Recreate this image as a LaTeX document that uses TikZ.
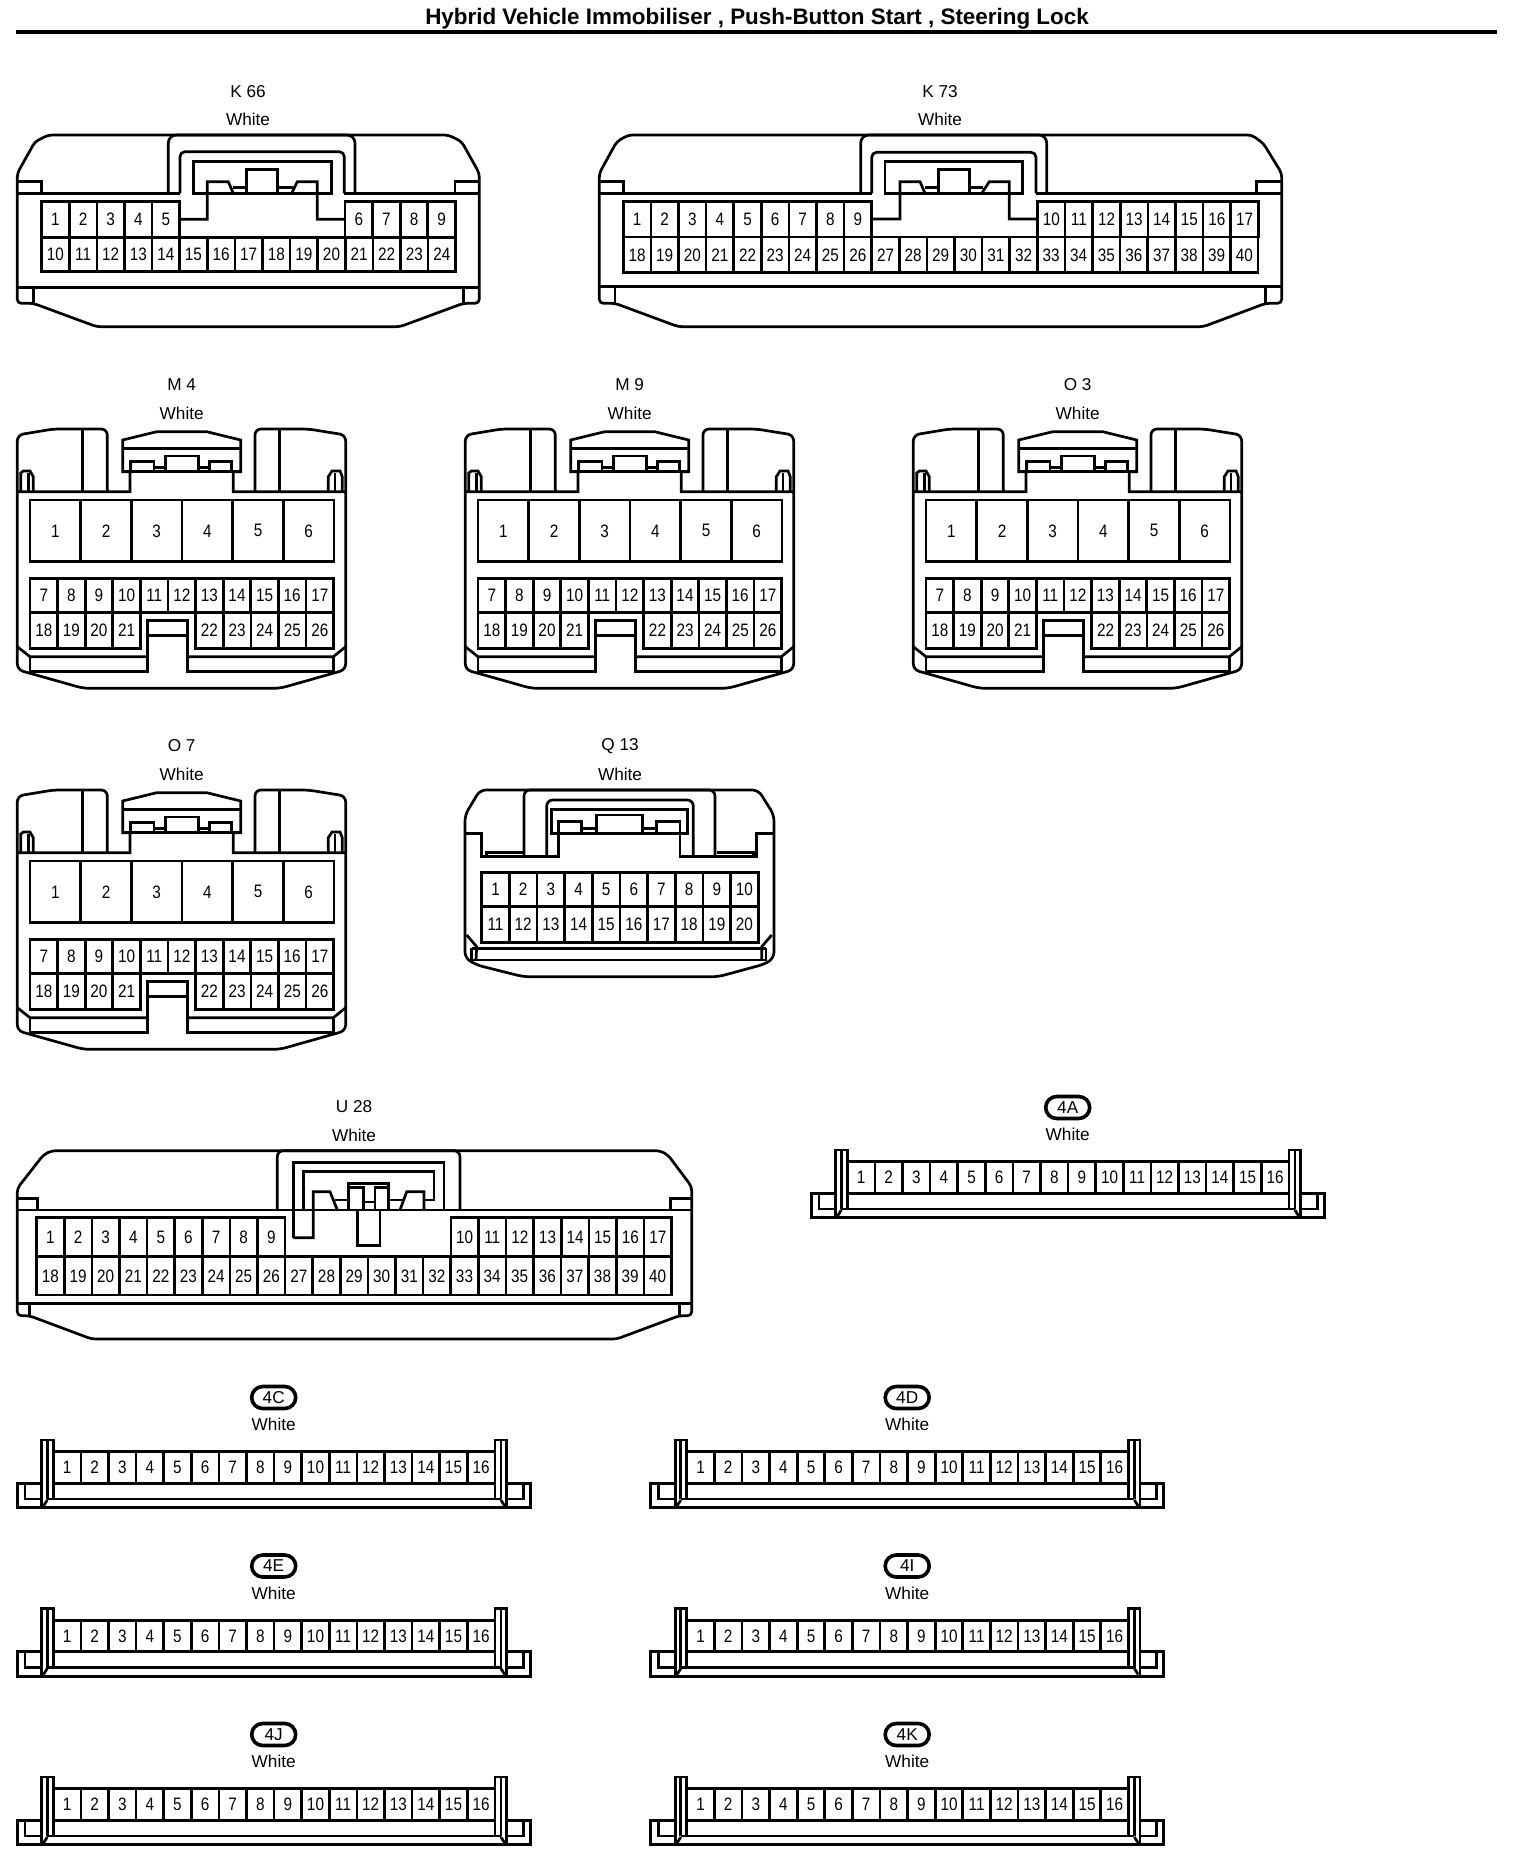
\documentclass[tikz,border=0pt]{standalone}
\usepackage{fontspec}
\setmainfont{Liberation Sans}[FakeStretch=0.85]
\newfontfamily\wideface{Liberation Sans}
\usetikzlibrary{positioning, shapes.misc}

\tikzset{
  conn/.style={line width=1.35pt},
  pin/.style={draw, line width=1.35pt, inner sep=0pt, outer sep=0pt, font=\fontsize{9}{10}\selectfont},
  lab/.style={inner sep=0pt, font=\wideface\fontsize{8.6}{10}\selectfont},
  badge/.style={draw, rounded rectangle, line width=1.8pt, inner sep=0pt, minimum width=22pt, minimum height=11pt, font=\wideface\fontsize{8.6}{10}\selectfont}
}

\newcommand{\pinrow}[7]{%
  \foreach \n in {#6,...,#7}
    \node[pin, minimum width=#4*0.5pt, minimum height=#5*0.5pt] (#1\n) at ({#2+(\n-#6+0.5)*#4},{#3+#5/2}) {\n};
}

\newcommand{\mconn}[4]{%
  \begin{scope}[shift={(#3,#4)}]
    \node[lab] (#1name) at (181.7,385) {#2};
    \node[lab] (#1color) at (181.7,413) {White};
    \draw[conn, rounded corners=3pt] (107.3,491.7) -- (107.3,429) -- (53.3,429) -- (17.3,435) -- (17.3,669.7) -- (83.3,688.3) -- (280,688.3) -- (345.7,669.7) -- (345.7,435) -- (308.3,429) -- (255,429) -- (255,491.7);
    \draw[conn] (17.3,491.7) -- (130,491.7) -- (130,471.7) -- (122.7,471.7) -- (122.7,440) -- (156.7,431.7) -- (206.7,431.7) -- (240.7,440) -- (240.7,471.7) -- (233.3,471.7) -- (233.3,491.7) -- (345.7,491.7);
    \draw[conn] (122.7,448.3) -- (240.7,448.3);
    \draw[conn] (122.7,471.7) -- (240.7,471.7);
    \draw[conn] (130.7,471.7) |- (154,461.7) -- (154,471.7);
    \draw[conn] (154,467.3) -- (165.7,467.3);
    \draw[conn] (165.7,471.7) |- (198.3,456) -- (198.3,471.7);
    \draw[conn] (198.3,467.3) -- (209.3,467.3);
    \draw[conn] (209.3,471.7) |- (231.7,461.7) -- (231.7,471.7);
    \draw[conn] (82.7,429) -- (82.7,491.7);
    \draw[conn] (279.3,429) -- (279.3,491.7);
    \draw[conn] (20.7,491.7) -- (20.7,473) -- (23.3,471) -- (30,471) -- (33.3,476.7) -- (33.3,491.7);
    \draw[conn] (28.3,473) -- (28.3,491.7);
    \draw[conn] (342.3,491.7) -- (342.3,476.7) -- (340,471) -- (332,471) -- (328.3,476.7) -- (328.3,491.7);
    \draw[conn] (335,473) -- (335,491.7);
    \draw[conn] (17.3,646.7) -- (30,656.7) -- (147.7,656.7);
    \draw[conn] (345.7,646.7) -- (333.3,656.7) -- (187.3,656.7);
    \draw[conn] (30,656.7) -- (30,671.7) -- (147.7,671.7) -- (147.7,620.7) -- (187.3,620.7) -- (187.3,671.7) -- (333.3,671.7) -- (333.3,656.7);
    \draw[conn] (147.7,635.7) -- (187.3,635.7);
    \pinrow{#1p}{30}{500}{50.67}{61.7}{1}{6}
    \pinrow{#1p}{30}{578.3}{27.6}{34.4}{7}{17}
    \pinrow{#1p}{30}{612.7}{27.6}{35.6}{18}{21}
    \pinrow{#1p}{195.7}{612.7}{27.6}{35.6}{22}{26}
  \end{scope}
}

\newcommand{\sconn}[4]{%
  \begin{scope}[shift={(#3,#4)}]
    \node[badge] (#1name) at (273.7,1397.5) {#2};
    \node[lab] (#1color) at (273.7,1424.5) {White};
    \draw[conn] (41.7,1507.7) -- (41.7,1440) -- (53.3,1440) -- (53.3,1499);
    \draw[conn] (47.3,1440) -- (47.3,1499);
    \draw[conn] (506.5,1507.7) -- (506.5,1440) -- (494.9,1440) -- (494.9,1499);
    \draw[conn] (500.9,1440) -- (500.9,1499);
    \draw[conn] (41.7,1483.3) -- (17.3,1483.3) -- (17.3,1507.7) -- (530.2,1507.7) -- (530.2,1483.3) -- (506.5,1483.3);
    \draw[conn] (25,1483.3) -- (25,1499) -- (41.7,1499);
    \draw[conn] (523.2,1483.3) -- (523.2,1499) -- (506.5,1499);
    \draw[conn] (47.3,1499) -- (500.9,1499);
    \draw[conn] (43.5,1506) -- (47.3,1500);
    \draw[conn] (504.7,1506) -- (500.9,1500);
    \pinrow{#1p}{53.3}{1451.7}{27.6}{31.6}{1}{16}
  \end{scope}
}

\begin{document}
\begin{tikzpicture}[x=0.5pt, y=-0.5pt]
  \fill[white] (0,0) rectangle (1520,1874);
  \useasboundingbox (0,0) rectangle (1520,1874);

  \node[inner sep=0pt, font=\wideface\bfseries\fontsize{11.2}{12}\selectfont] (title) at (757,19) {Hybrid Vehicle Immobiliser , Push-Button Start , Steering Lock};
  \coordinate (ruleL) at (16,32);
  \coordinate (ruleR) at (1497,32);
  \draw[line width=2pt] (ruleL) -- (ruleR);

  \node[lab] (k66name) at (248,92) {K 66};
  \node[lab] (k66color) at (248,119.3) {White};
  \draw[conn, rounded corners=2pt] (33.3,303.3) -- (17.3,303.3) -- (17.3,173.3) -- (35,141.7) -- (48.3,135) -- (448.3,135) -- (461.7,141.7) -- (479.3,173.3) -- (479.3,303.3) -- (463.3,303.3) -- (400,326.7) -- (96.7,326.7) -- cycle;
  \draw[conn] (17.3,193.3) -- (180,193.3);
  \draw[conn] (344.3,193.3) -- (479.3,193.3);
  \draw[conn] (17.3,181.7) -- (41.7,181.7) -- (41.7,193.3);
  \draw[conn] (479.3,181.7) -- (455,181.7) -- (455,193.3);
  \draw[conn] (17.3,287.3) -- (479.3,287.3);
  \draw[conn] (33.3,287.3) -- (33.3,303.3);
  \draw[conn] (463.3,287.3) -- (463.3,303.3);
  \draw[conn, rounded corners=4pt] (168.3,193.3) -- (168.3,135) -- (355,135) -- (355,193.3);
  \draw[conn, rounded corners=2.5pt] (180,193.3) -- (180,151.7) -- (344.3,151.7) -- (344.3,193.3);
  \draw[conn] (193.3,161.7) rectangle (331.7,193.3);
  \draw[conn] (180,219.3) -- (207.3,219.3) -- (207.3,181.7) -- (228.3,181.7) -- (233.3,193.3);
  \draw[conn] (233.3,187.3) -- (246.7,187.3);
  \draw[conn] (246.7,193.3) |- (277.3,169.3) -- (277.3,193.3);
  \draw[conn] (277.3,187.3) -- (293.3,187.3);
  \draw[conn] (291.7,193.3) -- (297.3,181.7) -- (317.3,181.7) -- (317.3,219.3) -- (344.7,219.3);
  \pinrow{k66p}{41.7}{201.7}{27.6}{35.6}{1}{5}
  \pinrow{k66p}{345}{201.7}{27.6}{35.6}{6}{9}
  \pinrow{k66p}{41.7}{237.3}{27.6}{34.4}{10}{24}

  \node[lab] (k73name) at (940,92) {K 73};
  \node[lab] (k73color) at (940,119.3) {White};
  \draw[conn, rounded corners=2pt] (615,303.3) -- (599.3,303.3) -- (599.3,173.3) -- (616.7,141.7) -- (628.3,135) -- (1251.7,135) -- (1263.3,143.3) -- (1281.7,173.3) -- (1281.7,303.3) -- (1265.7,303.3) -- (1203.3,326.7) -- (678.3,326.7) -- cycle;
  \draw[conn] (599.3,193.3) -- (871.7,193.3);
  \draw[conn] (1036,193.3) -- (1281.7,193.3);
  \draw[conn] (599.3,181.7) -- (623.3,181.7) -- (623.3,193.3);
  \draw[conn] (1281.7,181.7) -- (1256.7,181.7) -- (1256.7,193.3);
  \draw[conn] (599.3,286.7) -- (1281.7,286.7);
  \draw[conn] (615,286.7) -- (615,303.3);
  \draw[conn] (1265.7,286.7) -- (1265.7,303.3);
  \draw[conn, rounded corners=4pt] (860.7,193.3) -- (860.7,135) -- (1046.7,135) -- (1046.7,193.3);
  \draw[conn, rounded corners=2.5pt] (871.7,193.3) -- (871.7,152.3) -- (1036,152.3) -- (1036,193.3);
  \draw[conn] (885,161.7) rectangle (1022.7,193.3);
  \draw[conn] (871.7,219) -- (900,219) -- (900,181.7) -- (920,181.7) -- (925,193.3);
  \draw[conn] (925,187.7) -- (938.3,187.7);
  \draw[conn] (938.3,193.3) |- (969.3,169.3) -- (969.3,193.3);
  \draw[conn] (969.3,187.7) -- (983.3,187.7);
  \draw[conn] (981.7,193.3) -- (989.3,181.7) -- (1009.3,181.7) -- (1009.3,219) -- (1036.7,219);
  \pinrow{k73p}{623.3}{201.7}{27.6}{35.3}{1}{9}
  \pinrow{k73p}{1037.5}{201.7}{27.6}{35.3}{10}{17}
  \pinrow{k73p}{623.3}{237}{27.6}{35.7}{18}{40}

  \mconn{m4}{M 4}{0}{0}
  \mconn{m9}{M 9}{448}{0}
  \mconn{o3}{O 3}{896}{0}
  \mconn{o7}{O 7}{0}{361}

  \node[lab] (q13name) at (620,746) {Q 13};
  \node[lab] (q13color) at (620,774) {White};
  \draw[conn, rounded corners=3pt] (465,815) -- (480,790) -- (758.3,790) -- (774,815) -- (774,958) -- (765,964) -- (718.3,976.7) -- (523.3,976.7) -- (476.7,965) -- (465,958) -- cycle;
  \draw[conn] (465,833.3) -- (481.7,833.3) -- (481.7,856.7) -- (558.3,856.7) -- (558.3,833.3);
  \draw[conn] (680,833.3) -- (680,856.7) -- (756.7,856.7) -- (756.7,833.3) -- (774,833.3);
  \draw[conn] (486.7,856.7) -- (486.7,852.7) -- (522.7,852.7);
  \draw[conn] (716.7,852.7) -- (753.3,852.7) -- (753.3,856.7);
  \draw[conn, rounded corners=3pt] (524,856.7) -- (524,790) -- (715,790) -- (715,856.7);
  \draw[conn, rounded corners=3pt] (546.7,856.7) -- (546.7,800) -- (693.3,800) -- (693.3,856.7);
  \draw[conn] (551.7,809.3) rectangle (687.3,833.3);
  \draw[conn] (558.3,833.3) |- (581.7,821.7) -- (581.7,833.3);
  \draw[conn] (581.7,828.3) -- (596.7,828.3);
  \draw[conn] (596.7,833.3) |- (642.7,815) -- (642.7,833.3);
  \draw[conn] (642.7,828.3) -- (656.7,828.3);
  \draw[conn] (656.7,833.3) |- (680,821.7) -- (680,833.3);
  \draw[conn] (466.7,935) -- (476.7,946.7) -- (476,960);
  \draw[conn] (771.7,935) -- (761.7,946.7) -- (761.7,960);
  \draw[conn] (471.7,948.3) -- (766,948.3);
  \draw[conn] (471.7,948.3) -- (471.7,960) -- (766,960) -- (766,948.3);
  \pinrow{q13p}{481.7}{872.7}{27.66}{34}{1}{10}
  \pinrow{q13p}{481.7}{906.7}{27.66}{35.6}{11}{20}

  \node[lab] (u28name) at (354,1107) {U 28};
  \node[lab] (u28color) at (354,1135) {White};
  \draw[conn, rounded corners=2pt] (29.3,1315.7) -- (17.3,1315.7) -- (17.3,1188.3) -- (43.3,1155) -- (51.7,1150.7) -- (660,1150.7) -- (668,1155) -- (691.7,1186.7) -- (691.7,1315.7) -- (679.3,1315.7) -- (616.7,1339) -- (91.7,1339) -- cycle;
  \draw[conn] (17.3,1210) -- (691.7,1210);
  \draw[conn] (17.3,1198.3) -- (37.3,1198.3) -- (37.3,1210);
  \draw[conn] (691.7,1198.3) -- (670.7,1198.3) -- (670.7,1210);
  \draw[conn] (17.3,1303.3) -- (691.7,1303.3);
  \draw[conn] (29.3,1303.3) -- (29.3,1315.7);
  \draw[conn] (679.3,1303.3) -- (679.3,1315.7);
  \draw[conn, rounded corners=3pt] (277.3,1210) -- (277.3,1150.7) -- (460,1150.7) -- (460,1210);
  \draw[conn] (293.3,1237.7) -- (293.3,1162.7) -- (444,1162.7) -- (444,1210);
  \draw[conn] (293.3,1237.7) -- (313.3,1237.7) -- (313.3,1191.7) -- (330,1191.7) -- (337.3,1210);
  \draw[conn] (303.3,1210) -- (303.3,1171.7) -- (434,1171.7) -- (434,1200) -- (424,1200);
  \draw[conn] (335,1200) -- (348.3,1200);
  \draw[conn] (348.3,1210) |- (388.3,1183.3) -- (388.3,1210);
  \draw[conn] (350,1187.7) -- (363.3,1187.7) -- (363.3,1210);
  \draw[conn] (387,1187.7) -- (375,1187.7) -- (375,1210);
  \draw[conn] (363.3,1202) -- (375,1202);
  \draw[conn] (357.3,1210) -- (357.3,1245.7) -- (380,1245.7) -- (380,1210);
  \draw[conn] (388.3,1200) -- (405,1200);
  \draw[conn] (400,1210) -- (406.7,1191.7) -- (424,1191.7) -- (424,1210);
  \pinrow{u28p}{36.7}{1217.3}{27.6}{39.4}{1}{9}
  \pinrow{u28p}{450.9}{1217.3}{27.6}{39.4}{10}{17}
  \pinrow{u28p}{36.7}{1256.7}{27.6}{38.3}{18}{40}

  \sconn{s4a}{4A}{794}{-290}
  \sconn{s4c}{4C}{0}{0}
  \sconn{s4d}{4D}{633.5}{0}
  \sconn{s4e}{4E}{0}{168.5}
  \sconn{s4i}{4I}{633.5}{168.5}
  \sconn{s4j}{4J}{0}{337}
  \sconn{s4k}{4K}{633.5}{337}
\end{tikzpicture}
\end{document}
